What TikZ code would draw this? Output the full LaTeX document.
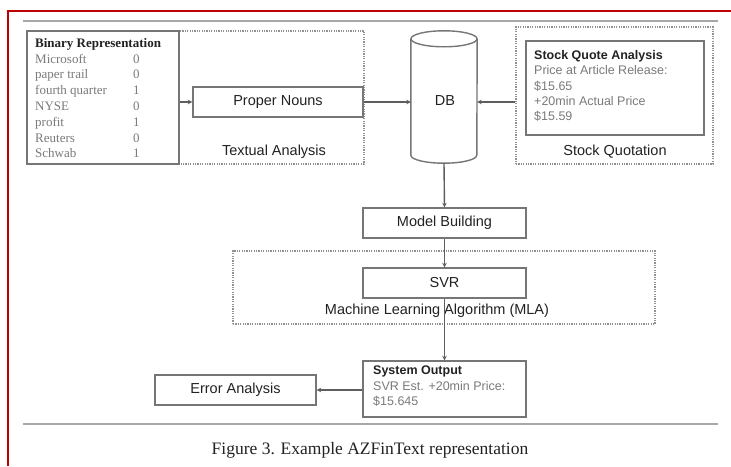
\documentclass[tikz,border=0pt]{standalone}
\usepackage{fontspec}
\setmainfont{Liberation Serif}
\newfontfamily\arial{Liberation Sans}
\usetikzlibrary{arrows.meta,calc}

\definecolor{frame}{HTML}{C00000}
\definecolor{rule}{HTML}{A8A8A8}
\definecolor{edge}{HTML}{767676}
\definecolor{ink}{HTML}{222222}
\definecolor{soft}{HTML}{7A7A7A}

\tikzset{
  boxline/.style={draw=edge, line width=1.4pt},
  stage/.style={boxline, rectangle, inner sep=0pt, text=ink,
    font=\arial\fontsize{14.5}{17}\selectfont},
  group/.style={draw=edge!80, line width=1.1pt, dash pattern=on 1.2pt off 1.2pt,
    rectangle, inner sep=0pt},
  grouplabel/.style={text=ink, inner sep=0pt, font=\arial\fontsize{14.5}{17}\selectfont},
  flow/.style={draw=edge!80!black, line width=1.4pt,
    -{Stealth[length=4.5pt,width=4.5pt]}},
}

\begin{document}
\begin{tikzpicture}[x=1pt,y=-1pt]
  \useasboundingbox (0,0) rectangle (731,466);
  \fill[white] (0,0) rectangle (731,466);

  % red page frame and grey rules
  \draw[frame, line width=2pt] (8,466) -- (8,11) -- (731,11);
  \draw[rule, line width=2pt] (23,21) -- (718,21);
  \draw[rule, line width=2pt] (23,424) -- (718,424);

  % textual analysis group
  \node[group, minimum width=337pt, minimum height=133pt] (ta) at (195.5,97.5) {};
  \node[boxline, rectangle, inner sep=0pt, minimum width=152pt, minimum height=133pt] (bin) at (103,97.5) {};
  \node[anchor=north west, inner sep=0pt, text=soft] (binlist) at (35,36)
    {\fontsize{13}{15.8}\selectfont
     \begin{tabular}{@{}p{86pt}l@{}}
       \multicolumn{2}{@{}l@{}}{\textcolor{ink}{\textbf{Binary Representation}}}\\
       Microsoft & 0\\
       paper trail & 0\\
       fourth quarter & 1\\
       NYSE & 0\\
       profit & 1\\
       Reuters & 0\\
       Schwab & 1
     \end{tabular}};
  \node[stage, minimum width=170pt, minimum height=30pt] (pn) at (278,102) {Proper Nouns};
  \node[grouplabel] (talabel) at (274,152) {Textual Analysis};

  % database cylinder
  \node[rectangle, inner sep=0pt, minimum width=66pt, minimum height=132pt] (db) at (444,97) {};
  \draw[boxline, fill=white] ([yshift=-8pt]db.north west) -- ([yshift=8pt]db.south west)
    arc[start angle=180, end angle=360, x radius=33pt, y radius=8pt]
    -- ([yshift=-8pt]db.north east);
  \draw[boxline] ([yshift=-8pt]db.north) ellipse[x radius=33pt, y radius=8pt];
  \node[text=ink, inner sep=0pt, font=\arial\fontsize{14.5}{17}\selectfont] (dblabel) at (445,101) {DB};

  % stock quotation group
  \node[group, minimum width=197pt, minimum height=137pt] (sq) at (614.5,95.5) {};
  \node[boxline, rectangle, inner sep=0pt, minimum width=178pt, minimum height=94pt] (sqa) at (615,88) {};
  \node[anchor=north west, inner sep=0pt, align=left, text=soft,
        font=\arial\fontsize{12.5}{15.4}\selectfont] (sqtext) at (534,50)
    {\textcolor{ink}{\textbf{Stock Quote Analysis}}\\
     Price at Article Release:\\
     \$15.65\\
     +20min Actual Price\\
     \$15.59};
  \node[grouplabel] (sqlabel) at (615,152) {Stock Quotation};

  % model building and learning algorithm
  \node[stage, minimum width=163pt, minimum height=30pt] (mb) at (444.5,223) {Model Building};
  \node[group, minimum width=422pt, minimum height=73pt] (mla) at (444,287.5) {};
  \node[stage, fill=white, minimum width=163pt, minimum height=30pt] (svr) at (444.5,283) {SVR};
  \node[grouplabel] (mlalabel) at (437,311) {Machine Learning Algorithm (MLA)};

  % output and error analysis
  \node[stage, minimum width=163pt, minimum height=56pt] (out) at (444.5,389) {};
  \node[anchor=north west, inner sep=0pt, align=left, text=soft,
        font=\arial\fontsize{12.5}{15.4}\selectfont] (outtext) at (373,366)
    {\textcolor{ink}{\textbf{System Output}}\\
     SVR Est. +20min Price:\\
     \$15.645};
  \node[stage, minimum width=161pt, minimum height=30pt] (err) at (235.5,390) {Error Analysis};

  % connectors
  \draw[flow] (bin.east |- pn.west) -- (pn.west);
  \draw[flow] (pn.east) -- (db.west |- pn.east);
  \draw[flow] (sq.west |- pn.east) -- (db.east |- pn.east);
  \draw[flow] (db.south) -- (mb.north);
  \draw[flow] (mb.south) -- (svr.north);
  \draw[flow] (svr.south) -- (out.north);
  \draw[flow] (out.west |- err.east) -- (err.east);

  % caption
  \node[text=ink, inner sep=0pt, font=\fontsize{17.5}{20}\selectfont] (caption) at (370,450)
    {Figure 3. Example AZFinText representation};
\end{tikzpicture}
\end{document}
